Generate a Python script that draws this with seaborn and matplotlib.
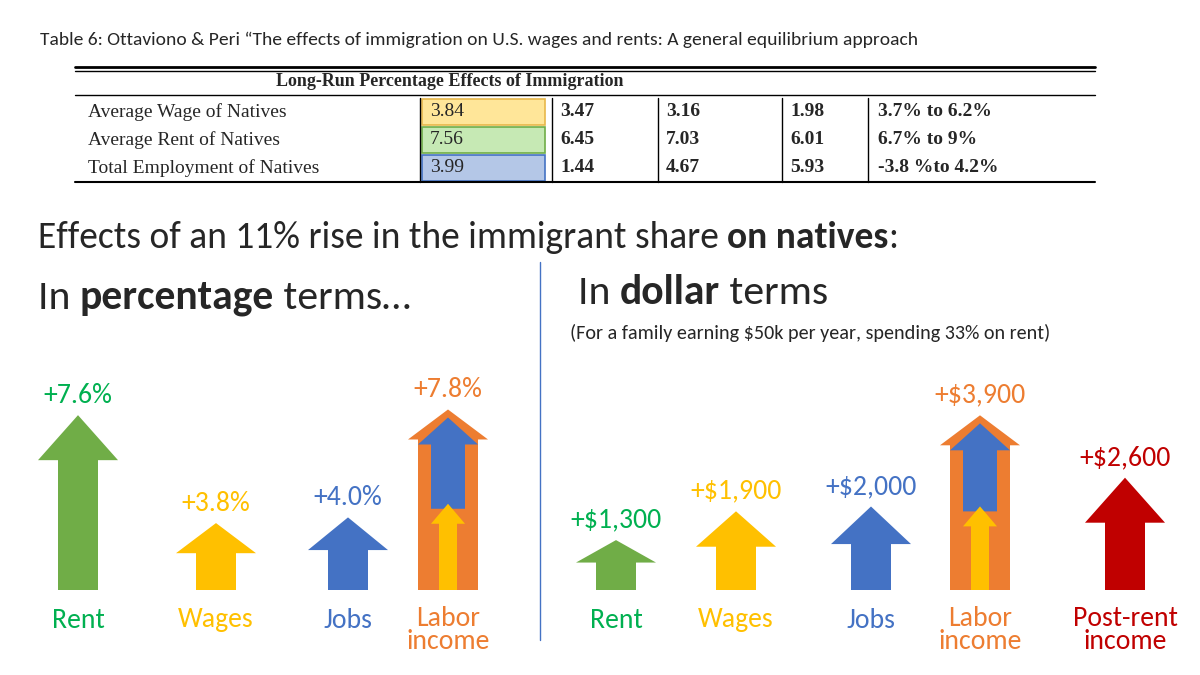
import matplotlib
matplotlib.use("Agg")
import matplotlib.pyplot as plt
from matplotlib.patches import Polygon, Rectangle
import seaborn as sns

sns.set_theme(style="white")
plt.rcParams['font.family'] = ['Carlito', 'Lato', 'DejaVu Sans']

# ---- data ----
table_rows = ["Average Wage of Natives", "Average Rent of Natives", "Total Employment of Natives"]
table_vals = [["3.84", "3.47", "3.16", "1.98", "3.7% to 6.2%"],
              ["7.56", "6.45", "7.03", "6.01", "6.7% to 9%"],
              ["3.99", "1.44", "4.67", "5.93", "-3.8 %to 4.2%"]]
pct_labels = ["Rent", "Wages", "Jobs", "Labor\nincome"]
pct_values = [7.6, 3.8, 4.0, 7.8]
usd_labels = ["Rent", "Wages", "Jobs", "Labor\nincome", "Post-rent\nincome"]
usd_values = [1300, 1900, 2000, 3900, 2600]

GREEN, YELLOW, BLUE, ORANGE, RED = "#70AD47", "#FFC000", "#4472C4", "#ED7D31", "#C00000"
TGREEN = "#00B050"
pct_colors = [GREEN, YELLOW, BLUE, ORANGE]
pct_tcolors = [TGREEN, YELLOW, BLUE, ORANGE]
usd_colors = [GREEN, YELLOW, BLUE, ORANGE, RED]
usd_tcolors = [TGREEN, YELLOW, BLUE, ORANGE, RED]
pct_x = [78, 216, 348, 448]
usd_x = [616, 736, 871, 980, 1125]

fig = plt.figure(figsize=(12, 6.75), dpi=100)
ax = fig.add_axes([0, 0, 1, 1])
ax.set_xlim(0, 1200)
ax.set_ylim(675, 0)
ax.axis("off")
renderer = fig.canvas.get_renderer()

def seq(x, y, parts, size):
    for txt, bold in parts:
        t = ax.text(x, y, txt, fontsize=size, va="center", fontweight="bold" if bold else "normal")
        bb = t.get_window_extent(renderer=renderer)
        x += bb.width  # axes units == pixels

ax.text(40, 40, "Table 6: Ottaviono & Peri \u201cThe effects of immigration on U.S. wages and rents: A general equilibrium approach",
        fontsize=14, va="center")

# table
serif = ["Liberation Serif", "DejaVu Serif"]
ax.plot([75, 1095], [67, 67], color="black", lw=2)
ax.plot([75, 1095], [71, 71], color="black", lw=1)
ax.text(450, 82, "Long-Run Percentage Effects of Immigration", fontsize=13, fontweight="bold",
        ha="center", va="center", family=serif)
ax.plot([75, 1095], [95, 95], color="black", lw=1)
ax.plot([75, 1095], [182, 182], color="black", lw=1.5)
hl_cols = ["#FFE699", "#C6E9B4", "#B4C7E7"]
hl_edges = ["#E8B84A", "#70AD47", "#4472C4"]
col_x = [430, 560, 666, 790, 878]
for i, (lab, vals) in enumerate(zip(table_rows, table_vals)):
    y = 112 + i * 28
    ax.add_patch(Rectangle((422, y - 13), 123, 26, facecolor=hl_cols[i], edgecolor=hl_edges[i], lw=1.2))
    ax.text(88, y, lab, fontsize=14, va="center", family=serif)
    for j, v in enumerate(vals):
        ax.text(col_x[j], y, v, fontsize=14, va="center", fontweight="bold" if j > 0 else "normal",
                family=serif)
for xv in [420, 552, 658, 782, 868]:
    ax.plot([xv, xv], [98, 182], color="black", lw=1)

seq(38, 237, [("Effects of an 11% rise in the immigrant share ", False), ("on natives", True), (":", False)], 27)
seq(38, 298, [("In ", False), ("percentage", True), (" terms\u2026", False)], 30)
seq(578, 293, [("In ", False), ("dollar", True), (" terms", False)], 30)
ax.text(570, 333, "(For a family earning $50k per year, spending 33% on rent)", fontsize=14.5, va="center")
ax.plot([540, 540], [262, 640], color="#4472C4", lw=1)

BASE = 590

def arrow(xc, top, bottom, hw, sw, hl, color, z=2):
    pts = [(xc - sw, bottom), (xc - sw, top + hl), (xc - hw, top + hl), (xc, top),
           (xc + hw, top + hl), (xc + sw, top + hl), (xc + sw, bottom)]
    ax.add_patch(Polygon(pts, closed=True, facecolor=color, edgecolor="none", zorder=z))

def draw_set(xs, vals, cols, tcols, labels, fmt, a, b):
    for x, v, c, tc, lab in zip(xs, vals, cols, tcols, labels):
        h = a + b * v
        top = BASE - h
        hl = min(45, 0.45 * h)
        if lab.startswith("Labor"):
            arrow(x, top, BASE, 40, 30, 30, ORANGE)
            mid = top + 0.55 * h
            arrow(x, top + 8, mid, 30, 17, 27, BLUE, 3)
            arrow(x, mid - 5, BASE, 17, 9, 20, YELLOW, 3)
        else:
            arrow(x, top, BASE, 40, 20, hl, c)
        ax.text(x, top - 20, fmt(v), fontsize=20, color=tc, ha="center", va="center")
        ax.text(x, 620 if "\n" not in lab else 630, lab, fontsize=20, color=tc, ha="center",
                va="center", linespacing=0.9)

draw_set(pct_x, pct_values, pct_colors, pct_tcolors, pct_labels,
         lambda v: f"+{v:.1f}%", -41, 28.4)
draw_set(usd_x, usd_values, usd_colors, usd_tcolors, usd_labels,
         lambda v: f"+${v:,.0f}", -12.5, 0.048)

fig.savefig("out.png", dpi=100)
